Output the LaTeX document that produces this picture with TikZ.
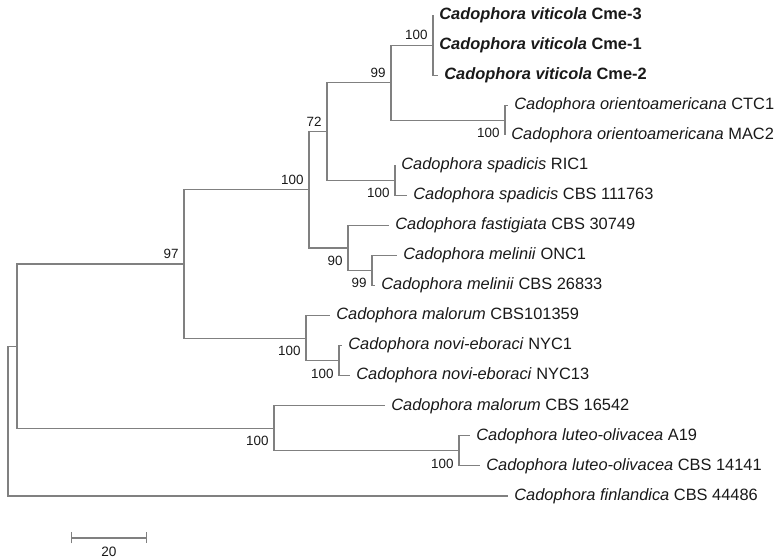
\documentclass[tikz,border=0pt]{standalone}
\usepackage{fontspec}
\setmainfont{Liberation Sans}
\usepackage{tikz}
\usetikzlibrary{arrows.meta,positioning}

\begin{document}
\begin{tikzpicture}[
  x=0.5pt, y=-0.5pt,
  tip/.style={anchor=west, inner sep=3pt, text=black!90, font=\fontsize{8.2}{9}\selectfont},
  bsup/.style={anchor=south east, inner sep=2.5pt, text=black!90, font=\fontsize{6.7}{7}\selectfont},
  bsdown/.style={anchor=north east, inner sep=2.5pt, yshift=-1.3pt, text=black!90, font=\fontsize{6.7}{7}\selectfont},
  branch/.style={draw=black!50, line width=0.55pt}
]
\useasboundingbox (0,0) rectangle (784,560);

% Tips (top to bottom)
\node[tip] (cme3)      at (433,15)    {\textbf{\textit{Cadophora viticola} Cme-3}};
\node[tip] (cme1)      at (433,45.1)  {\textbf{\textit{Cadophora viticola} Cme-1}};
\node[tip] (cme2)      at (438,75.1)  {\textbf{\textit{Cadophora viticola} Cme-2}};
\node[tip] (ctc1)      at (508,105.2) {\textit{Cadophora orientoamericana} CTC1};
\node[tip] (mac2)      at (505,135.2) {\textit{Cadophora orientoamericana} MAC2};
\node[tip] (ric1)      at (395,165.3) {\textit{Cadophora spadicis} RIC1};
\node[tip] (cbs111763) at (407,195.4) {\textit{Cadophora spadicis} CBS 111763};
\node[tip] (cbs30749)  at (389,225.4) {\textit{Cadophora fastigiata} CBS 30749};
\node[tip] (onc1)      at (397,255.5) {\textit{Cadophora melinii} ONC1};
\node[tip] (cbs26833)  at (375,285.5) {\textit{Cadophora melinii} CBS 26833};
\node[tip] (cbs101359) at (330,315.6) {\textit{Cadophora malorum} CBS101359};
\node[tip] (nyc1)      at (342,345.7) {\textit{Cadophora novi-eboraci} NYC1};
\node[tip] (nyc13)     at (350,375.7) {\textit{Cadophora novi-eboraci} NYC13};
\node[tip] (cbs16542)  at (385,405.8) {\textit{Cadophora malorum} CBS 16542};
\node[tip] (a19)       at (470,435.8) {\textit{Cadophora luteo-olivacea} A19};
\node[tip] (cbs14141)  at (480,465.9) {\textit{Cadophora luteo-olivacea} CBS 14141};
\node[tip] (cbs44486)  at (508,496)   {\textit{Cadophora finlandica} CBS 44486};

% Internal nodes
\coordinate (root)  at (8,421);
\coordinate (ingrp) at (17,346.1);
\coordinate (n97)   at (184,264);
\coordinate (n100a) at (309,189.8);
\coordinate (n72)   at (327,131.5);
\coordinate (n99)   at (391,82.7);
\coordinate (n100v) at (433,45.1);
\coordinate (n100o) at (505,120.2);
\coordinate (n100s) at (395,180.4);
\coordinate (n90)   at (348,248);
\coordinate (n99m)  at (372,270.5);
\coordinate (n100d) at (306,338.2);
\coordinate (n100n) at (339,360.7);
\coordinate (n100c) at (274,428.3);
\coordinate (n100l) at (459,450.9);

% Branches
\draw[branch] (root) |- (ingrp);
\draw[branch] (root) |- (cbs44486.west);
\draw[branch] (ingrp) |- (n97);
\draw[branch] (ingrp) |- (n100c);

\draw[branch] (n97) |- (n100a);
\draw[branch] (n97) |- (n100d);
\draw[branch] (n100a) |- (n72);
\draw[branch] (n100a) |- (n90);
\draw[branch] (n72) |- (n99);
\draw[branch] (n72) |- (n100s);
\draw[branch] (n99) |- (n100v);
\draw[branch] (n99) |- (n100o);
\draw[branch] (n100v) |- (cme3.west);
\draw[branch] (n100v) |- (cme1.west);
\draw[branch] (n100v) |- (cme2.west);
\draw[branch] (n100o) |- (ctc1.west);
\draw[branch] (n100o) |- (mac2.west);
\draw[branch] (n100s) |- (ric1.west);
\draw[branch] (n100s) |- (cbs111763.west);
\draw[branch] (n90) |- (cbs30749.west);
\draw[branch] (n90) |- (n99m);
\draw[branch] (n99m) |- (onc1.west);
\draw[branch] (n99m) |- (cbs26833.west);

\draw[branch] (n100d) |- (cbs101359.west);
\draw[branch] (n100d) |- (n100n);
\draw[branch] (n100n) |- (nyc1.west);
\draw[branch] (n100n) |- (nyc13.west);

\draw[branch] (n100c) |- (cbs16542.west);
\draw[branch] (n100c) |- (n100l);
\draw[branch] (n100l) |- (a19.west);
\draw[branch] (n100l) |- (cbs14141.west);

% Bootstrap values
\node[bsup] (b97)    at (n97)   {97};
\node[bsup] (b100a)  at (n100a) {100};
\node[bsup] (b72)    at (n72)   {72};
\node[bsup] (b99)    at (n99)   {99};
\node[bsup] (b100v)  at (n100v) {100};
\node[bsdown] (b100o) at (n100o) {100};
\node[bsdown] (b100s) at (n100s) {100};
\node[bsdown] (b90)   at (n90)   {90};
\node[bsdown] (b99m)  at (n99m)  {99};
\node[bsdown] (b100d) at (n100d) {100};
\node[bsdown] (b100n) at (n100n) {100};
\node[bsdown] (b100c) at (n100c) {100};
\node[bsdown] (b100l) at (n100l) {100};

% Scale bar
\coordinate (barL) at (71,538);
\coordinate (barR) at (147,538);
\draw[branch, {Bar[width=5.5pt]}-{Bar[width=5.5pt]}] (barL) -- (barR);
\node[text=black!90, font=\fontsize{6.8}{8}\selectfont] (barlbl) at (109,552) {20};

\end{tikzpicture}
\end{document}
